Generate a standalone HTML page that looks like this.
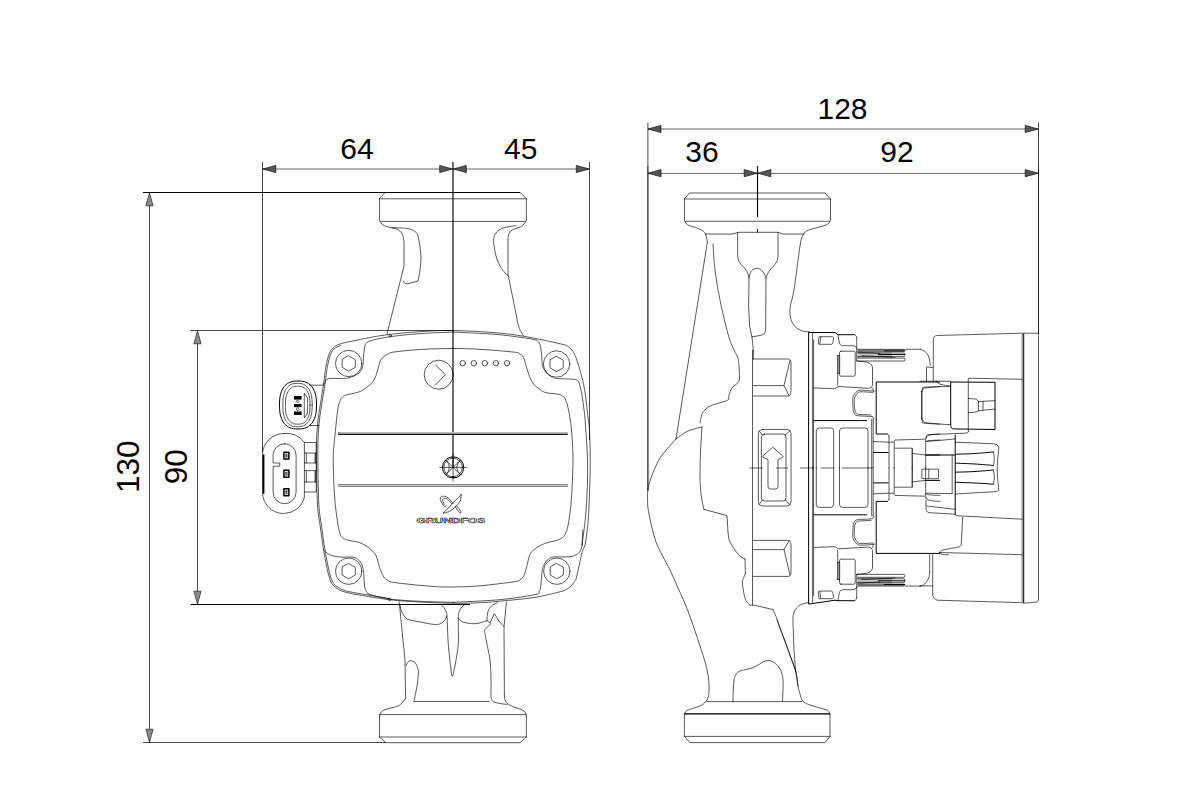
<!DOCTYPE html>
<html><head><meta charset="utf-8"><title>Pump dimensions</title>
<style>
html,body{margin:0;padding:0;background:#fff;}
body{width:1200px;height:800px;overflow:hidden;font-family:"Liberation Sans",sans-serif;}
svg{display:block;}
.l{fill:none;stroke:#000;stroke-width:.65;stroke-linecap:round;stroke-linejoin:round;}
.h{fill:none;stroke:#000;stroke-width:1.4;stroke-linecap:butt;}
.b{fill:none;stroke:#000;stroke-width:1;}
.d{fill:none;stroke:#000;stroke-width:.6;}
.e{fill:none;stroke:#000;stroke-width:.72;}
.k{fill:none;stroke:#000;stroke-width:1.15;}
.ar{fill:#555;stroke:#111;stroke-width:.7;stroke-linejoin:round;}
.av{fill:#8a8a8a;stroke:#222;stroke-width:.7;stroke-linejoin:round;}
.f{fill:#000;stroke:none;}
.g{fill:#999;stroke:#000;stroke-width:.6;}
.t{font-family:"Liberation Sans",sans-serif;font-size:30px;fill:#000;text-anchor:middle;}
.logo{font-family:"Liberation Sans",sans-serif;font-weight:bold;font-size:6.3px;fill:#fff;stroke:#111;stroke-width:.42;}
</style></head><body>
<svg width="1200" height="800" viewBox="0 0 1200 800">
<g id="dims">
<line class="b" x1="143" y1="192.5" x2="520" y2="192.5"/>
<line class="e" x1="143" y1="742.5" x2="386" y2="742.5"/>
<line class="e" x1="190.5" y1="330.5" x2="453" y2="330.5"/>
<line class="b" x1="190.5" y1="604.5" x2="470" y2="604.5"/>
<line class="e" x1="149.5" y1="192.5" x2="149.5" y2="742.5"/>
<line class="e" x1="197.5" y1="330.5" x2="197.5" y2="604.5"/>
<path class="av" d="M149.5 192.8L145.9 205.8L153.1 205.8Z"/>
<path class="av" d="M149.5 742.2L145.9 729.2L153.1 729.2Z"/>
<path class="av" d="M197.5 330.8L193.9 343.8L201.1 343.8Z"/>
<path class="av" d="M197.5 604.2L193.9 591.2L201.1 591.2Z"/>
<line class="e" x1="262.5" y1="162" x2="262.5" y2="452"/>
<line class="e" x1="589.5" y1="162" x2="589.5" y2="440"/>
<line class="d" x1="262.5" y1="169" x2="589.5" y2="169"/>
<path class="ar" d="M262.8 169L275.8 165.4L275.8 172.6Z"/>
<path class="ar" d="M452.7 169L439.7 165.4L439.7 172.6Z"/>
<path class="ar" d="M453.3 169L466.3 165.4L466.3 172.6Z"/>
<path class="ar" d="M589.3 169L576.3 165.4L576.3 172.6Z"/>
<line class="k" x1="453" y1="162" x2="453" y2="467"/>
<line class="e" x1="647.9" y1="122.5" x2="647.9" y2="491"/>
<line class="d" x1="647.9" y1="166" x2="647.9" y2="491"/>
<line class="e" x1="1038.5" y1="122.5" x2="1038.5" y2="334"/>
<line class="d" x1="1038.5" y1="166" x2="1038.5" y2="334"/>
<line class="d" x1="647.7" y1="129" x2="1038.5" y2="129"/>
<line class="d" x1="647.7" y1="173.4" x2="1038.5" y2="173.4"/>
<path class="ar" d="M648 129L661 125.4L661 132.6Z"/>
<path class="ar" d="M1038.2 129L1025.2 125.4L1025.2 132.6Z"/>
<path class="ar" d="M648 173.2L661 169.6L661 176.8Z"/>
<path class="ar" d="M757.2 173.2L744.2 169.6L744.2 176.8Z"/>
<path class="ar" d="M757.8 173.2L770.8 169.6L770.8 176.8Z"/>
<path class="ar" d="M1038.2 173.2L1025.2 169.6L1025.2 176.8Z"/>
<line class="k" x1="757.5" y1="166" x2="757.5" y2="217"/>
<line class="k" x1="757.5" y1="229" x2="757.5" y2="232.5"/>
<text class="t" x="357" y="158.6">64</text>
<text class="t" x="520.7" y="158.6">45</text>
<text class="t" x="842.5" y="118.6">128</text>
<text class="t" x="702" y="162.4">36</text>
<text class="t" x="897" y="162.4">92</text>
<text class="t" style="font-size:31.5px" transform="translate(139.2 466.7) rotate(-90)">130</text>
<text class="t" style="font-size:31.5px" transform="translate(186.8 466.7) rotate(-90)">90</text>
</g>
<g id="leftview">
<path class="l" d="M385.6 192.5L520 192.5L526.4 198.6L526.4 220.4L525.4 221.4L380.6 221.4L379.6 220.4L379.6 198.6Z"/>
<line class="l" x1="379.6" y1="198.8" x2="526.4" y2="198.8"/>
<path class="l" d="M379.8 221C380.3 221.7 381.3 223.9 383 225C384.7 226.1 387.5 226.7 390 227.4C392.5 228.2 395.9 228.2 398 229.5C400.1 230.8 401.5 232.9 402.5 235C403.5 237.1 403.8 240.8 404 242L404 266L387 334"/>
<path class="l" d="M392 227.6C394.7 227.8 404.2 227.9 408 228.6C411.8 229.2 413.3 230.3 415 231.5C416.7 232.7 417.2 233.4 418 236C418.8 238.6 419.5 243.3 420 247C420.5 250.7 421 254.2 421 258C421 261.8 420.5 266.2 420 270C419.5 273.8 418.3 279.2 418 281L407 284C406.6 283.8 405.1 283.5 404.5 283C403.9 282.5 403.5 281.3 403.3 281"/>
<path class="l" d="M526.2 221C525.7 221.7 524 224 523 225C522 226 521.8 226.2 520 227C518.2 227.8 513.8 228.8 512 230C510.2 231.2 509.7 232.7 509 234C508.3 235.3 508.2 237.3 508 238L508 274L518 324C518.3 325 519.1 328.1 520 330C520.9 331.9 522.9 334.8 523.5 335.7"/>
<path class="l" d="M515.6 225.6C513.5 226 506.3 226.8 503 228C499.7 229.2 497.6 231 496 233C494.4 235 493.9 237.5 493.6 240C493.4 242.5 494.1 245.3 494.5 248C494.9 250.7 495.1 253 496 256C496.9 259 498.3 263 500 266C501.7 269 504.7 272.5 506 274C507.3 275.5 507.7 274.8 508 275"/>
<path class="l" d="M453 330.5C440.5 330.3 431.3 330.9 420 331.7C408.7 332.4 395.8 333.5 385 335C374.2 336.5 362.5 339 355 340.5C347.5 342 343.7 342.8 340 344C336.3 345.2 334.8 346.5 333 348C331.2 349.5 330.7 350 329.5 353C328.3 356 327 360.8 326 366C325 371.2 324.9 374.7 323.5 384.5C322.1 394.3 318.7 412.4 317.5 425C316.3 437.6 316.5 446.7 316.5 460C316.5 473.3 316.9 494.2 317.5 505C318.1 515.8 319 517.6 320 525C321 532.4 322.4 542.7 323.5 549.5C324.6 556.3 325.5 561.2 326.5 566C327.5 570.8 328.5 574.9 329.5 578C330.5 581.1 331.2 582.8 332.5 584.5C333.8 586.2 334.2 587.1 337 588.5C339.8 589.9 340.2 591.1 349 593C357.8 594.9 377.7 598.2 389.5 599.7C401.3 601.2 409.4 601.4 420 602C430.6 602.6 443 603.2 453 603.3C463 603.4 472.2 603.1 480 602.7C487.8 602.4 490.5 602.1 499.5 601.2C508.5 600.3 523.8 599.1 534 597.5C544.2 595.9 555.5 592.9 561 591.5C566.5 590.1 565.2 590 567 589C568.8 588 570.2 586.8 571.5 585.5C572.8 584.2 573.6 583 574.5 581.5C575.4 580 575.5 581.3 576.7 576.5C578 571.7 580.6 557.8 582 552.5C583.4 547.2 584.1 548.8 585 545C585.9 541.2 586.6 535.4 587.2 530C587.8 524.6 588.2 522.9 588.7 512.5C589.2 502.1 590.1 481.2 590.2 467.5C590.3 453.8 589.9 438.3 589.5 430C589.1 421.7 588.9 424.6 588 417.5C587.1 410.4 586 396.8 584.2 387.5C582.5 378.2 579.4 368 577.5 362C575.6 356 574.6 354.1 573 351.5C571.4 348.9 570 347.8 568 346.5C566 345.2 568.2 345.7 561 344C553.8 342.3 536 338.4 525 336.5C514 334.6 507 333.7 495 332.7C483 331.7 465.5 330.7 453 330.5Z"/>
<path class="l" d="M341 345.3C339.8 345.9 335.7 347.6 334 349C332.3 350.4 331.9 351.1 330.8 354C329.7 356.9 328.4 361.4 327.4 366.5C326.4 371.6 326.3 374.9 324.9 384.7C323.5 394.4 320.1 412.4 318.9 425C317.7 437.6 317.9 446.7 317.9 460C317.9 473.3 318.3 494.2 318.9 505C319.5 515.8 320.4 517.6 321.4 525C322.4 532.4 323.8 542.5 324.9 549.3C326 556.1 326.9 560.9 327.9 565.6C328.9 570.3 329.8 574.3 330.8 577.3C331.8 580.3 332.5 581.9 333.7 583.5C334.9 585.1 335.3 585.8 337.9 587.2C340.5 588.6 340.9 589.8 349.5 591.7C358.1 593.6 382.8 597.3 389.5 598.4"/>
<path class="l" d="M579 382.2C579.2 383.2 580 385.9 580.5 388C581 390.1 581.4 391 582 395C582.6 399 583.7 407 584.3 412C584.9 417 585.1 419.5 585.5 425C585.9 430.5 586.5 439.2 586.8 445C587.1 450.8 587.4 454.2 587.5 460C587.6 465.8 587.6 474.2 587.5 480C587.4 485.8 587.3 489.2 587 495C586.7 500.8 586.2 508.8 585.7 515C585.2 521.2 584.3 527.5 583.7 532.5C583.1 537.5 582.3 542.9 582 545"/>
<path class="l" d="M453 332C446.7 332.3 426.3 333.1 415 334C403.7 334.9 392.5 336.3 385 337.5C377.5 338.7 373.2 340 370 341C366.8 342 366.9 342.5 366 343.5C365.1 344.5 365.1 344.9 364.7 347C364.3 349.1 363.8 353 363.5 356C363.2 359 363.5 362.4 363 365C362.5 367.6 361.8 369.8 360.5 371.5C359.2 373.2 357.1 374.4 355 375.5C352.9 376.6 350.2 377.5 348 378C345.8 378.5 344.6 378.4 341.5 378.5C338.4 378.6 332.1 378.2 329.5 378.5C326.9 378.8 326.9 379.5 326 380.5C325.1 381.5 324.3 383.8 324 384.5"/>
<path class="l" d="M453 332C460 332.4 483.8 333.4 495 334.3C506.2 335.2 513.5 336.4 520 337.3C526.5 338.2 531 338.8 534 339.5C537 340.2 537 340.6 538 341.5C539 342.4 539.4 342.6 540 344.7C540.6 346.8 541.1 350.9 541.5 354C541.9 357.1 541.8 360.9 542.2 363.5C542.6 366.1 543.1 367.8 544 369.5C544.9 371.2 546.2 372.8 547.5 374C548.8 375.2 550.5 376.2 552 377C553.5 377.8 553 378.1 556.5 378.5C560 378.9 569.6 378.9 573 379.2C576.4 379.5 576 379.7 577 380.2C578 380.7 578.7 381.9 579 382.2"/>
<path class="l" d="M323.5 549.5C324.5 550.4 326.8 553.5 329.5 554.7C332.2 556 336.2 556.6 340 557C343.8 557.4 349.1 556.7 352 557C354.9 557.3 356 558 357.5 559C359 560 360.1 561.5 361 563C361.9 564.5 362.6 566.2 363 568C363.4 569.8 363.4 570.3 363.7 573.5C364 576.7 364.2 584 364.7 587C365.2 590 365.6 590.2 366.5 591.5C367.4 592.8 366.2 593.2 370 594.5C373.8 595.8 381.2 597.9 389.5 599C397.8 600.1 409.4 600.8 420 601.3C430.6 601.8 447.5 602.1 453 602.3"/>
<path class="l" d="M582.7 530C582.6 532.5 582.4 541.6 582 545C581.6 548.4 581.2 549 580.5 550.5C579.8 552 579.2 553 577.5 554C575.8 555 574 556.2 570 556.7C566 557.2 557 556.7 553.5 557C550 557.3 550.2 558 549 558.7C547.8 559.5 546.9 560.3 546 561.5C545.1 562.7 544.1 564.5 543.5 566C542.9 567.5 542.7 567 542.2 570.5C541.7 574 541.2 583.5 540.7 587C540.2 590.5 539.9 590.2 539 591.5C538.1 592.8 542.1 593.1 535.5 594.5C528.9 595.9 513.2 598.4 499.5 599.7C485.8 601 460.8 601.9 453 602.3"/>
<path class="l" d="M453 348.5C443 348.5 429.8 348.9 420 349.5C410.2 350.1 399.3 351.2 394 352C388.7 352.8 389.8 353.2 388 354C386.2 354.8 384.8 355.6 383.5 356.7C382.2 357.8 381.2 359.1 380.5 360.5C379.8 361.9 379.8 362.5 379 365C378.2 367.5 377 372.8 376 375.5C375 378.2 374.2 379.8 373 381.5C371.8 383.2 370.2 384.6 368.5 386C366.8 387.4 365 388.9 363 390C361 391.1 359.3 391.9 356.5 392.7C353.7 393.5 348.4 394.2 346 395C343.6 395.8 343 396.5 342 397.5C341 398.5 340.7 398.9 340 401C339.3 403.1 338.6 403.8 337.7 410C336.8 416.2 335.4 430.2 334.7 438.5C333.9 446.8 333.2 450.2 333.2 460C333.2 469.8 333.9 487 334.7 497.5C335.4 508 336.8 517 337.7 523C338.6 529 339.2 531.1 340 533.5C340.8 535.9 340.9 536.4 342.2 537.5C343.4 538.6 345.6 539.4 347.5 540C349.4 540.6 351.5 540.8 353.5 541.2C355.5 541.6 357.2 541.6 359.5 542.5C361.8 543.4 364.9 545.2 367 546.5C369.1 547.8 370.5 549 372 550.5C373.5 552 374.7 552.7 376 555.5C377.3 558.3 378.4 564 379.7 567.5C380.9 571 382.1 574.3 383.5 576.5C384.9 578.7 386.2 579.5 388 580.5C389.8 581.5 387 581.5 394 582.5C401 583.5 420.2 585.5 430 586.2C439.8 587 444.7 587.1 453 587C461.3 586.9 469.8 586.7 480 585.8C490.2 584.9 507.8 582.8 514.5 581.7C521.2 580.7 518.5 580.4 520 579.5C521.5 578.6 522.4 578.5 523.5 576.5C524.6 574.5 525.5 571 526.5 567.5C527.5 564 528.4 558.3 529.5 555.5C530.6 552.7 531.5 552 533 550.5C534.5 549 536.3 547.8 538.5 546.5C540.7 545.2 543.5 543.9 546 543C548.5 542.1 551.5 541.7 553.5 541.2C555.5 540.7 556.5 540.6 558 540C559.5 539.4 561.2 538.6 562.5 537.5C563.8 536.4 564.5 535.9 565.5 533.5C566.5 531.1 567.5 529 568.5 523C569.5 517 570.8 508 571.5 497.5C572.2 487 573 471.2 573 460C573 448.8 572.2 438.3 571.5 430C570.8 421.7 569.5 415.1 568.5 410C567.5 404.9 566.5 401.8 565.5 399.5C564.5 397.2 563.8 396.9 562.5 396C561.2 395.1 560.8 394.8 558 394.2C555.2 393.6 549 393.5 546 392.7C543 391.9 542 390.9 540 389.5C538 388.1 535.7 386.5 534 384.5C532.3 382.5 531.1 380 530 377.5C528.9 375 528.3 372.8 527.2 369.5C526.1 366.2 524.8 360.1 523.5 357.5C522.2 354.9 521 354.9 519.5 354C518 353.1 521.1 353 514.5 352.2C507.9 351.4 490.2 349.9 480 349.3C469.8 348.7 463 348.5 453 348.5Z"/>
<circle class="l" cx="390.2" cy="335.8" r="1.2"/>
<circle class="l" cx="389.6" cy="599.6" r="1.2"/>
<circle class="l" cx="348.7" cy="363.5" r="13.2"/>
<path class="l" d="M348.7 355.9L355.3 359.7L355.3 367.3L348.7 371.1L342.1 367.3L342.1 359.7Z"/>
<circle class="l" cx="556.6" cy="364" r="13.2"/>
<path class="l" d="M556.6 356.4L563.2 360.2L563.2 367.8L556.6 371.6L550 367.8L550 360.2Z"/>
<circle class="l" cx="348.7" cy="571.2" r="13.2"/>
<path class="l" d="M348.7 563.6L355.3 567.4L355.3 575L348.7 578.8L342.1 575L342.1 567.4Z"/>
<circle class="l" cx="556.8" cy="571.2" r="13.2"/>
<path class="l" d="M556.8 563.6L563.4 567.4L563.4 575L556.8 578.8L550.2 575L550.2 567.4Z"/>
<circle class="l" cx="438.7" cy="374.7" r="14.5"/>
<path class="l" d="M435.2 364.5L445.4 374.7L435.2 385.2"/>
<circle class="l" cx="462.7" cy="363.2" r="2.7"/>
<circle class="l" cx="473.8" cy="363.2" r="2.7"/>
<circle class="l" cx="484.8" cy="363.2" r="2.7"/>
<circle class="l" cx="495.9" cy="363.2" r="2.7"/>
<circle class="l" cx="507" cy="363.2" r="2.7"/>
<rect x="338.2" y="432" width="229.6" height="2" fill="#bdbdbd"/>
<rect x="338.2" y="433.8" width="229.6" height="1.1" fill="#000"/>
<rect x="338.2" y="432" width="1" height="2" fill="#555"/>
<rect x="338.2" y="484" width="229.6" height="3" fill="#858585"/>
<rect x="339.2" y="485" width="228" height="1" fill="#c8c8c8"/>
<circle class="b" cx="453.1" cy="467.4" r="10.6"/>
<circle class="l" cx="453.1" cy="467.4" r="9.3"/>
<line class="l" x1="439.6" y1="467.4" x2="466.8" y2="467.4"/>
<line class="l" x1="453.1" y1="454" x2="453.1" y2="481"/>
<line class="l" x1="446" y1="460.3" x2="460.2" y2="474.5"/>
<line class="l" x1="460.2" y1="460.3" x2="446" y2="474.5"/>
<path class="l" d="M446 460.3Q453.1 467.4 446 474.5M460.2 460.3Q453.1 467.4 460.2 474.5"/>
<rect x="451.6" y="476.6" width="3" height="1.4" fill="#000"/>
<path class="l" d="M461.2 494.3L460.6 500.1"/>
<path class="l" d="M461.2 494.3C460.6 495 458.8 497.1 457.5 498.5C456.2 499.9 454.8 501 453.3 502.6C451.8 504.2 450.2 506.2 448.5 508C446.8 509.8 444.1 512.2 443.2 513.1"/>
<path class="l" d="M460.6 500.1C460.2 500.7 459.3 502.5 458.5 503.5C457.7 504.5 457.5 505 456 506.3C454.5 507.6 451.5 510.3 449.4 511.4C447.3 512.5 444.2 512.8 443.2 513.1"/>
<path class="l" d="M455 506.3C455.4 506.9 456.6 508.8 457.3 509.8C458.1 510.8 458.9 511.9 459.5 512.5C460.1 513 460.6 513.3 460.8 513.1C461 512.9 460.9 512.2 460.6 511.4C460.3 510.6 459.5 509.4 458.8 508.5C458.1 507.6 457.1 506.2 456.7 505.7"/>
<path class="l" d="M453.3 503.5C452.4 502.6 449.8 499.1 448.2 497.9C446.6 496.7 445 496.2 443.7 496.2C442.4 496.1 440.7 496.6 440.3 497.6C439.9 498.6 440.7 500.8 441.5 502.4C442.3 503.9 444.1 506.4 444.9 506.9C445.7 507.4 446 505.7 446.2 505.5"/>
<path class="l" d="M451.6 503.7C450.9 502.9 448.4 499.9 447.1 499C445.8 498.1 444.4 498.2 443.7 498.4C442.9 498.6 442.5 499.1 442.6 500.1C442.7 501.1 444 503.9 444.3 504.6"/>
<text class="logo" x="416.6" y="522.8" textLength="68.6" lengthAdjust="spacingAndGlyphs">GRUNDFOS</text>
<path class="b" d="M316.5 405C316.5 407 316.4 409.2 316.3 410.9C316.1 412.6 315.9 413.9 315.6 415.2C315.3 416.5 314.9 417.7 314.5 418.8C314 419.9 313.5 420.9 312.9 421.9C312.4 422.8 311.7 423.6 311 424.4C310.3 425.1 309.5 425.8 308.6 426.4C307.8 427 306.9 427.4 305.8 427.8C304.8 428.2 303.9 428.5 302.6 428.7C301.3 428.9 299.5 429 298 429C296.5 429 294.7 428.9 293.4 428.7C292.1 428.5 291.2 428.2 290.2 427.8C289.1 427.4 288.2 427 287.4 426.4C286.5 425.8 285.7 425.1 285 424.4C284.3 423.6 283.6 422.8 283.1 421.9C282.5 420.9 282 419.9 281.5 418.8C281.1 417.7 280.7 416.5 280.4 415.2C280.1 413.9 279.9 412.6 279.7 410.9C279.6 409.2 279.5 407 279.5 405C279.5 403 279.6 400.8 279.7 399.1C279.9 397.4 280.1 396.1 280.4 394.8C280.7 393.5 281.1 392.3 281.5 391.2C282 390.1 282.5 389.1 283.1 388.1C283.6 387.2 284.3 386.4 285 385.6C285.7 384.9 286.5 384.2 287.4 383.6C288.2 383 289.1 382.6 290.2 382.2C291.2 381.8 292.1 381.5 293.4 381.3C294.7 381.1 296.5 381 298 381C299.5 381 301.3 381.1 302.6 381.3C303.9 381.5 304.8 381.8 305.8 382.2C306.9 382.6 307.8 383 308.6 383.6C309.5 384.2 310.3 384.9 311 385.6C311.7 386.4 312.4 387.2 312.9 388.1C313.5 389.1 314 390.1 314.5 391.2C314.9 392.3 315.3 393.5 315.6 394.8C315.9 396.1 316.1 397.4 316.3 399.1C316.4 400.8 316.5 403 316.5 405Z"/>
<path class="l" d="M312.2 405C312.2 406.8 312.1 408.8 312 410.3C311.9 411.9 311.7 413 311.5 414.2C311.2 415.4 311 416.5 310.6 417.5C310.3 418.5 309.8 419.4 309.4 420.2C308.9 421.1 308.4 421.8 307.8 422.5C307.2 423.2 306.6 423.8 305.9 424.3C305.3 424.9 304.5 425.3 303.7 425.6C302.9 426 302.2 426.3 301.1 426.4C300.1 426.6 298.7 426.7 297.5 426.7C296.3 426.7 294.9 426.6 293.9 426.4C292.8 426.3 292.1 426 291.3 425.6C290.5 425.3 289.7 424.9 289.1 424.3C288.4 423.8 287.8 423.2 287.2 422.5C286.6 421.8 286.1 421.1 285.6 420.2C285.2 419.4 284.7 418.5 284.4 417.5C284 416.5 283.8 415.4 283.5 414.2C283.3 413 283.1 411.9 283 410.3C282.9 408.8 282.8 406.8 282.8 405C282.8 403.2 282.9 401.2 283 399.7C283.1 398.1 283.3 397 283.5 395.8C283.8 394.6 284 393.5 284.4 392.5C284.7 391.5 285.2 390.6 285.6 389.8C286.1 388.9 286.6 388.2 287.2 387.5C287.8 386.8 288.4 386.2 289.1 385.7C289.7 385.1 290.5 384.7 291.3 384.4C292.1 384 292.8 383.7 293.9 383.6C294.9 383.4 296.3 383.3 297.5 383.3C298.7 383.3 300.1 383.4 301.1 383.6C302.2 383.7 302.9 384 303.7 384.4C304.5 384.7 305.3 385.1 305.9 385.7C306.6 386.2 307.2 386.8 307.8 387.5C308.4 388.2 308.9 388.9 309.4 389.8C309.8 390.6 310.3 391.5 310.6 392.5C311 393.5 311.2 394.6 311.5 395.8C311.7 397 311.9 398.1 312 399.7C312.1 401.2 312.2 403.2 312.2 405Z"/>
<path class="l" d="M310 405.2C310 406.8 309.9 408.5 309.9 409.9C309.8 411.2 309.6 412.2 309.4 413.3C309.2 414.3 309 415.2 308.7 416.1C308.4 417 308 417.8 307.6 418.5C307.3 419.3 306.8 420 306.3 420.6C305.9 421.2 305.3 421.7 304.8 422.1C304.2 422.6 303.6 423 302.9 423.3C302.2 423.6 301.6 423.8 300.7 424C299.9 424.1 298.7 424.2 297.7 424.2C296.7 424.2 295.5 424.1 294.7 424C293.8 423.8 293.2 423.6 292.5 423.3C291.8 423 291.2 422.6 290.6 422.1C290.1 421.7 289.5 421.2 289.1 420.6C288.6 420 288.1 419.3 287.8 418.5C287.4 417.8 287 417 286.7 416.1C286.4 415.2 286.2 414.3 286 413.3C285.8 412.2 285.6 411.2 285.5 409.9C285.5 408.5 285.4 406.8 285.4 405.2C285.4 403.6 285.5 401.9 285.5 400.5C285.6 399.2 285.8 398.2 286 397.1C286.2 396.1 286.4 395.2 286.7 394.3C287 393.4 287.4 392.6 287.8 391.9C288.1 391.1 288.6 390.4 289.1 389.8C289.5 389.2 290.1 388.7 290.6 388.3C291.2 387.8 291.8 387.4 292.5 387.1C293.2 386.8 293.8 386.6 294.7 386.4C295.5 386.3 296.7 386.2 297.7 386.2C298.7 386.2 299.9 386.3 300.7 386.4C301.6 386.6 302.2 386.8 302.9 387.1C303.6 387.4 304.2 387.8 304.8 388.3C305.3 388.7 305.9 389.2 306.3 389.8C306.8 390.4 307.3 391.1 307.6 391.9C308 392.6 308.4 393.4 308.7 394.3C309 395.2 309.2 396.1 309.4 397.1C309.6 398.2 309.8 399.2 309.9 400.5C309.9 401.9 310 403.6 310 405.2Z"/>
<rect class="f" x="294" y="396" width="7.6" height="3.6"/>
<rect class="f" x="294" y="404" width="7.6" height="3.2"/>
<rect class="f" x="294" y="411.5" width="7.6" height="3.5"/>
<path class="l" d="M304.5 393.5L307.6 398L307.6 413L304.5 417.5Z"/>
<line class="l" x1="310" y1="385.2" x2="323.5" y2="385.2"/>
<line class="l" x1="310" y1="425.5" x2="319" y2="425.5"/>
<path class="l" d="M297.8 400.3l1.4 1.4-1.4 1.4-1.4-1.4ZM297.8 408l1.4 1.4-1.4 1.4-1.4-1.4Z"/>
<path class="l" d="M283.7 433.5A21.2 21.2 0 0 0 262.5 454.7L262.5 492.3A21.2 21.2 0 0 0 283.7 513.5A21.2 21.2 0 0 0 304.4 497L304.4 442.5A21.2 21.2 0 0 0 283.7 433.5Z"/>
<rect x="262.6" y="454.4" width="1.8" height="39.4" fill="#000"/>
<path class="l" d="M284.6 443.7A11.5 11.5 0 0 0 273.1 455.2L273.1 463L279.7 463L279.7 466.2L273.1 466.2L273.1 492.2A11.5 11.5 0 0 0 296.1 492.2L296.1 455.2A11.5 11.5 0 0 0 284.6 443.7Z"/>
<rect class="l" x="283.9" y="452.2" width="5" height="6.8" style="stroke-width:1.5"/>
<rect x="285.3" y="453.7" width="2.2" height="3.8" fill="#555"/>
<rect class="l" x="283.9" y="470.3" width="5" height="7" style="stroke-width:1.5"/>
<rect x="285.3" y="471.8" width="2.2" height="4" fill="#555"/>
<rect class="l" x="283.9" y="488.7" width="5" height="7.1" style="stroke-width:1.5"/>
<rect x="285.3" y="490.2" width="2.2" height="4.1" fill="#555"/>
<path class="l" d="M304.4 442.5L316.2 442.5L316.2 492L304.4 492"/>
<line class="l" x1="304.4" y1="453" x2="316.2" y2="453"/>
<line class="l" x1="304.4" y1="463" x2="316.2" y2="463"/>
<line class="l" x1="304.4" y1="470.6" x2="316.2" y2="470.6"/>
<line class="l" x1="304.4" y1="482" x2="316.2" y2="482"/>
<line class="l" x1="306.3" y1="453" x2="306.3" y2="463"/>
<line class="b" x1="315.2" y1="453" x2="315.2" y2="463"/>
<line class="l" x1="306.3" y1="470.6" x2="306.3" y2="482"/>
<line class="b" x1="315.2" y1="470.6" x2="315.2" y2="482"/>
<path class="l" d="M399.2 602L405 660L405.6 698"/>
<path class="l" d="M405.6 698C405 698.8 403.3 701.7 402 703C400.7 704.3 400 705.1 398 706C396 706.9 392.3 707.6 390 708.3C387.7 709 385.6 709.2 384 710C382.4 710.8 381.2 711.9 380.5 713C379.8 714.1 379.7 715.9 379.5 716.5"/>
<path class="l" d="M400 604.5C400.2 605.4 400.5 608.4 401 610C401.5 611.6 401.9 612.5 403 614C404.1 615.5 404.7 617.9 407.5 619.2C410.3 620.5 415.5 621.1 420 622C424.5 622.9 431.2 624.2 434.5 624.5C437.8 624.8 438.1 624.4 439.5 624C440.9 623.6 441.7 623 442.7 622.2C443.7 621.5 444.9 620.5 445.5 619.5C446.1 618.5 446.4 616.6 446.6 616"/>
<path class="l" d="M440.5 604C441.2 604.8 443.5 607 444.5 608.5C445.5 610 446.1 611.8 446.5 613C446.9 614.2 446.8 613.5 447 616C447.2 618.5 447.3 624 447.5 628C447.7 632 447.7 635.2 448 640C448.3 644.8 448.8 651 449.5 657C450.2 663 451.2 674.2 452 676C452.8 677.8 453.8 670.7 454.5 668C455.2 665.3 455.5 663 456 660C456.5 657 457.3 653.3 457.7 650C458.1 646.7 458.3 645.3 458.4 640C458.5 634.7 458.2 622.8 458.4 618C458.6 613.2 458.9 612.8 459.5 611C460.1 609.2 461.1 608.2 462 607C462.9 605.8 464.5 604.5 465 604"/>
<path class="l" d="M458.4 618C458.8 618.5 460.1 620.1 461 620.8C461.9 621.5 461.8 621.9 464 622.4C466.2 622.9 471.2 623.8 474 623.8C476.8 623.8 478.8 623.2 481 622.7C483.2 622.2 486 621 487 620.7"/>
<path class="l" d="M487 620.7C487.1 619.8 487.1 616.6 487.3 615C487.5 613.4 487.8 612.2 488.2 611C488.6 609.8 489.2 608.5 490 607.5C490.8 606.5 491.4 605.8 492.7 605C493.9 604.2 496.7 603.1 497.5 602.7"/>
<path class="l" d="M487 620.7C487.6 621.2 490.2 622.5 490.5 623.4C490.8 624.3 489.4 625 488.5 626C487.6 627 485.6 628 485 629.5C484.4 631 484.4 629.9 485.2 635C486 640.1 489 652.5 490 660C491 667.5 490.8 674 491 680C491.2 686 490.8 692.7 491 696C491.2 699.3 491.5 699 492 700C492.5 701 492.7 701.4 494 702C495.3 702.6 497.8 703.1 500 703.5C502.2 703.9 505.8 704.2 507 704.4"/>
<path class="l" d="M490.3 622.5L494.3 613.6L499 621"/>
<path class="l" d="M499 621C499.4 621.5 500.7 623.1 501.5 624C502.3 624.9 503.4 626.1 503.8 626.5"/>
<path class="l" d="M506.5 602L504 626.5L504.4 696"/>
<path class="l" d="M504.4 696C504.6 696.8 504.9 699.7 505.5 701C506.1 702.3 506.6 703 508 704C509.4 705 512 706.2 514 707C516 707.8 518.3 708.3 520 709C521.7 709.7 523.1 710.2 524 711C524.9 711.8 525.2 712.5 525.6 713.5C526 714.5 526.3 716.4 526.4 717"/>
<path class="l" d="M406 666C406.2 665.4 406.8 663.3 407.5 662.5C408.2 661.7 409 661.2 410 661C411 660.8 412.5 660.8 413.5 661.3C414.5 661.8 415.2 662.7 416 664C416.8 665.3 417.6 667.3 418 669C418.4 670.7 418.6 671.2 418.4 674C418.2 676.8 417.7 681.5 417 686C416.3 690.5 414.5 698.5 414 701"/>
<line class="l" x1="414" y1="701.5" x2="489" y2="701.5"/>
<path class="l" d="M379.5 716.5L379.5 737L386 742.7L520 742.7L526.4 737L526.4 717"/>
<line class="l" x1="379.5" y1="714.6" x2="526.4" y2="714.6"/>
<line class="l" x1="379.5" y1="737" x2="526.4" y2="737"/>
</g>
<g id="rightview">
<path class="l" d="M690 193L825 193L830.5 199L830.5 220.5L829.6 221.3L685.3 221.3L684.5 220.5L684.5 199Z"/>
<line class="l" x1="684.5" y1="199" x2="830.5" y2="199"/>
<path class="l" d="M684.6 221.2C685.2 221.8 685.8 223.8 688 225C690.2 226.2 695.5 227.4 698 228.4C700.5 229.4 701.8 230.1 703 231C704.2 231.9 704.8 232.2 705.5 234C706.2 235.8 707.1 240.7 707.4 242"/>
<line class="l" x1="707.4" y1="242" x2="676" y2="439"/>
<path class="l" d="M706 234L733 234L738 232.3L778 232.3L783 234L804 234"/>
<path class="l" d="M830.2 221.2C829.5 221.8 829.4 223.6 826 225C822.6 226.4 813.4 228.4 810 229.6C806.6 230.8 806.7 231.1 805.5 232C804.3 232.9 803.9 232.7 803 235C802.1 237.3 801.5 236.8 800 246C798.5 255.2 795.6 280.2 794 290C792.4 299.8 791.2 301 790.5 305C789.8 309 789.9 311.6 790 314C790.1 316.4 790.5 317.8 791 319.5C791.5 321.2 792.2 322.7 793 324C793.8 325.3 794.8 326.5 796 327.5C797.2 328.5 798.5 329.3 800 330C801.5 330.7 803.3 331.2 805 331.5C806.7 331.8 809.2 331.9 810 332"/>
<path class="l" d="M713 244C713.3 248.3 713.8 260.7 715 270C716.2 279.3 717.8 289.3 720 300C722.2 310.7 725.7 325.7 728 334C730.3 342.3 732.3 346 734 350C735.7 354 737.1 354.7 738 358C738.9 361.3 739 366.3 739.2 370C739.4 373.7 739.9 377.6 739.4 380C738.9 382.4 737.2 383.2 736 384.5C734.8 385.8 733.2 386.2 732 388C730.8 389.8 729.7 393 729 395C728.3 397 729.7 398.7 728 400C726.3 401.3 722 402 719 403C716 404 712.3 404.8 710 406C707.7 407.2 706.3 408.7 705 410C703.7 411.3 702.8 411.8 702 414C701.2 416.2 700.3 421.5 700 423"/>
<path class="l" d="M737.6 233L737.6 256C737.8 256.7 738.1 258.8 738.5 260C738.9 261.2 738.8 261.3 740 263C741.2 264.7 744.7 268.2 746 270C747.3 271.8 747.5 272.7 748 274C748.5 275.3 748.8 277.3 749 278L748.6 306L749.6 326L752 337L753.4 350L753.4 359"/>
<path class="l" d="M778 233L778 256C777.9 256.7 777.6 258.8 777.3 260C777 261.2 777.2 261.3 776 263C774.8 264.7 771.4 268.2 770 270C768.6 271.8 768.2 272.7 767.5 274C766.8 275.3 766.2 277.3 766 278L765.6 330C765.4 330.6 765.1 332.7 764.5 333.5C763.9 334.3 762.4 334.8 762 335L752 337"/>
<path class="l" d="M749 278C749.3 276.9 750 273.1 751 271.5C752 269.9 753.5 269 755 268.6C756.5 268.2 758.5 268.2 760 269C761.5 269.8 763 272 764 273.5C765 275 765.7 277.2 766 278"/>
<path class="l" d="M676 439C674.5 440.7 669.7 445.8 667 449C664.3 452.2 662 454.8 660 458C658 461.2 656.5 464.7 655 468C653.5 471.3 652.1 475 651 478C649.9 481 649.1 483.3 648.5 486C647.9 488.7 647.7 490.8 647.6 494C647.5 497.2 647.5 501.7 647.7 505C647.9 508.3 648.3 510.2 649 514C649.7 517.8 650.8 523.3 652 528C653.2 532.7 654.3 537.5 656 542C657.7 546.5 659.7 550.3 662 555C664.3 559.7 667.3 564.5 670 570C672.7 575.5 675.3 582 678 588C680.7 594 683.5 599.8 686 606C688.5 612.2 690.7 618.3 693 625C695.3 631.7 698.1 640.2 700 646C701.9 651.8 703.3 656 704.5 660C705.7 664 706.3 666.7 707 670C707.7 673.3 708.4 676.7 708.7 680C709 683.3 709 687.3 709 690C709 692.7 708.8 694.3 708.5 696C708.2 697.7 707.2 699.3 707 700"/>
<path class="l" d="M676 439C677 438.2 680 435.8 682 434.5C684 433.2 685.8 432 688 431C690.2 430 692.7 429.4 695 428.7C697.3 428 700.8 427.3 702 427"/>
<path class="l" d="M702 427C701.8 430.8 700.9 442.2 700.6 450C700.3 457.8 700 468.2 700 474C700 479.8 700.1 481.7 700.3 485C700.5 488.3 700.7 491.2 701 494C701.3 496.8 701.8 499.4 702.3 502C702.8 504.6 703.7 508.2 704 509.4"/>
<path class="l" d="M704 509.4L727 515.6L728 532"/>
<path class="l" d="M728 532C728.1 532.8 728.3 535.3 728.6 537C728.9 538.7 729.1 540.1 730 542C730.9 543.9 732.7 546.5 734 548.5C735.3 550.5 736.8 552.6 738 554C739.2 555.4 739.8 556.2 741 557C742.2 557.8 744.3 558.7 745 559"/>
<path class="l" d="M745 559L745.4 574"/>
<path class="l" d="M745.4 574C745.1 574.7 744 576.7 743.5 578C743 579.3 742.4 580 742.4 582C742.4 584 742.9 587.3 743.3 590C743.7 592.7 744.4 596 745 598C745.6 600 746.2 600.8 747 602C747.8 603.2 749.5 604.5 750 605"/>
<path class="l" d="M750 605L756 605.6L773 609.6"/>
<path class="l" d="M773 609.6C773.7 611.2 775.8 615.9 777 619C778.2 622.1 778.5 623.8 780 628C781.5 632.2 784.2 639 786 644C787.8 649 789.3 653.3 791 658C792.7 662.7 794.8 667.3 796 672C797.2 676.7 797.7 683.7 798 686"/>
<line class="l" x1="752.5" y1="350" x2="752.5" y2="605"/>
<path class="l" d="M753 359L788.5 359C788.8 359.2 789.9 359.5 790.3 360C790.7 360.5 790.9 361.7 791 362L791 390C790.9 390.8 790.8 393.5 790.5 394.5C790.2 395.5 789.2 395.8 789 396L753 396"/>
<path class="l" d="M753 385.6L784 385.6L790 360.3"/>
<line class="l" x1="784" y1="385.6" x2="789" y2="395.5"/>
<path class="l" d="M753 576.4L788.5 576.4C788.8 576.2 789.9 575.9 790.3 575.4C790.7 574.9 790.9 573.7 791 573.4L791 545C790.9 544.5 790.8 542.8 790.5 542C790.2 541.2 789.2 540.7 789 540.4L753 540.4"/>
<path class="l" d="M753 549.6L784 549.6L790 575"/>
<line class="l" x1="784" y1="549.6" x2="789" y2="541"/>
<rect class="l" x="758.4" y="429.4" width="32.6" height="76.6" rx="4.5"/>
<rect class="l" x="761.4" y="434" width="24.6" height="67" rx="3.2"/>
<line class="l" x1="758.9" y1="430.5" x2="762.3" y2="435"/>
<line class="l" x1="790.4" y1="430.5" x2="785.2" y2="435"/>
<line class="l" x1="758.9" y1="505" x2="762.3" y2="500"/>
<line class="l" x1="790.4" y1="505" x2="785.2" y2="500"/>
<path class="l" d="M773 447.4L783 456.2Q783.6 457.2 782.4 457.4L778 459.6L778 486.5Q778 489 775.5 489L770.5 489Q768 489 768 486.5L768 459.6L763.2 457.4Q762 457.2 762.8 456.2Z"/>
<line class="d" x1="749.6" y1="468" x2="763" y2="468"/>
<line class="d" x1="776" y1="468" x2="788" y2="468"/>
<line class="d" x1="800" y1="468" x2="813" y2="468"/>
<line class="d" x1="820.7" y1="468" x2="833.5" y2="468"/>
<line class="d" x1="841.7" y1="468" x2="871" y2="468"/>
<path class="l" d="M808.6 602.5C807.8 602.7 805.4 603.1 804 603.5C802.6 603.9 801.2 604.2 800 605C798.8 605.8 797.5 606.8 796.5 608C795.5 609.2 794.6 610.5 794 612C793.4 613.5 793.2 615.3 793 617C792.8 618.7 792.9 619 793 622C793.1 625 793.3 630.3 793.5 635C793.7 639.7 793.6 644.2 794 650C794.4 655.8 794.9 664 795.6 670C796.3 676 797.3 682 798 686C798.7 690 799.3 691.7 800 694C800.7 696.3 801.1 698.5 802 700C802.9 701.5 804.2 702.2 805.5 703C806.8 703.8 807.6 704.2 810 705C812.4 705.8 817.2 707.2 820 708C822.8 708.8 825.5 709.3 827 710C828.5 710.7 828.5 711.3 829 712C829.5 712.7 829.8 713.7 830 714"/>
<path class="l" d="M777 620C777.5 621.3 778.5 624 780 628C781.5 632 783.3 636.7 786 644C788.7 651.3 794.3 667.3 796 672"/>
<path class="l" d="M707 700C706.5 700.6 705.2 702.5 704 703.5C702.8 704.5 701.7 705.2 700 706C698.3 706.8 696 707.3 694 708C692 708.7 689.4 709.3 688 710C686.6 710.7 686.1 711.3 685.5 712C684.9 712.7 684.6 713.7 684.4 714"/>
<line class="l" x1="707" y1="701.6" x2="802" y2="701.6"/>
<path class="l" d="M733 701.6C733 699.7 733.1 693.6 733.3 690C733.5 686.4 733.6 682.4 734 680C734.4 677.6 734.8 676.8 735.5 675.5C736.2 674.2 736.4 673 738 672C739.6 671 742.7 670.4 745 669.7C747.3 669 749.8 668.8 752 668C754.2 667.2 756 666.1 758 665C760 663.9 762.3 662.1 764 661.4C765.7 660.7 766.7 660.6 768 660.6C769.3 660.6 770.6 660.8 772 661.4C773.4 662 775.2 663.2 776.5 664.5C777.8 665.8 779.1 667.4 780 669C780.9 670.6 781.5 672.2 782 674C782.5 675.8 782.8 677.3 783 680C783.2 682.7 783.1 686.4 783 690C782.9 693.6 782.5 699.7 782.4 701.6"/>
<path class="l" d="M684.4 714L684.4 736.4L690 742.6L825 742.6L830 736.4L830 714Z"/>
<line class="l" x1="684.4" y1="736.4" x2="830" y2="736.4"/>
<line class="b" x1="684.4" y1="714" x2="830" y2="714"/>
<path class="b" d="M808.6 468L808.6 332.5L835 332.5L838 334.7L854.5 334.7"/>
<path class="l" d="M854.5 334.7C854.8 334.9 855.6 335.2 856 335.7C856.4 336.2 856.6 337.4 856.7 337.7"/>
<line class="l" x1="856.7" y1="337.7" x2="856.7" y2="361"/>
<line class="l" x1="812.6" y1="468" x2="812.6" y2="333"/>
<line class="l" x1="813.6" y1="468" x2="813.6" y2="340"/>
<path class="l" d="M819.7 336.7L832.5 336.7L833.6 338L832.8 343.2L831.6 344.3L819.2 344.3L818.3 343.2L818.9 338Z"/>
<path class="l" d="M820.8 337L819.8 343.8"/>
<path class="l" d="M838 334.7C838.1 335.4 838.4 337.6 838.6 339C838.9 340.4 839.2 342 839.5 343C839.8 344 840 344.4 840.5 344.8C841 345.2 842.2 345.6 842.5 345.7L853 345.7C853.4 345.8 854.9 346.1 855.5 346.5C856.1 346.9 856.5 347.9 856.7 348.2"/>
<rect class="l" x="839.5" y="351.2" width="15.7" height="25" rx="1.5"/>
<rect class="g" x="837.6" y="355.7" width="2.2" height="17.5"/>
<path class="l" d="M837.7 373L837.7 385"/>
<path class="l" d="M856.7 361L866 362C866.7 362.2 868.9 362.7 870 363.5C871.1 364.3 872.1 366.4 872.5 367L872.5 385C872.2 385.4 871.8 386.9 871 387.5C870.2 388.1 868.5 388.2 868 388.3L838 386.5L835 388.7L814 388"/>
<rect x="858" y="351.8" width="34" height="6" fill="#c4c4c4"/>
<rect x="858" y="349.5" width="46" height="1.5" fill="#8a8a8a"/>
<path class="l" d="M857.5 349.3 L904.3 349.3 Q906 350.3 904.3 351.3 L857.5 351.3"/>
<path class="l" d="M857.5 353 L904.3 353 Q906 354.8 904.3 356.6 L857.5 356.6"/>
<path class="l" d="M857.5 358.1 L904.3 358.1 Q906 359.6 904.3 361 L857.5 361"/>
<line class="b" x1="884" y1="350.9" x2="905" y2="350.9"/>
<line class="b" x1="878" y1="354.6" x2="905" y2="354.6"/>
<line class="l" x1="858" y1="352.2" x2="880" y2="353.4"/>
<line class="l" x1="862" y1="355.8" x2="895" y2="357.4"/>
<line class="l" x1="905.5" y1="349.3" x2="920.5" y2="349.3"/>
<path class="l" d="M920.5 349.3C921.2 349.7 923.8 350.6 925 351.5C926.2 352.4 927.2 353.6 928 355C928.8 356.4 929.2 358.2 929.6 360C930 361.8 930.1 364.6 930.2 365.5"/>
<path class="l" d="M927.2 367L932.7 367.7"/>
<path class="l" d="M926.5 367.3L926.5 381"/>
<path class="b" d="M940 382L876.2 382L876.2 434L887.5 434"/>
<path class="l" d="M887.5 434C887.8 434.4 888.8 435.8 889 436.2"/>
<line class="l" x1="889" y1="436.2" x2="889" y2="468"/>
<path class="l" d="M940 386.5C937.5 386.8 927.8 387.5 925 388C922.2 388.5 923.5 388.9 923 389.5C922.5 390.1 922.2 391.3 922 391.7"/>
<line class="l" x1="922" y1="391.7" x2="922" y2="418"/>
<path class="l" d="M922 418C922.2 418.4 922.5 419.9 923 420.7C923.5 421.4 923.5 422.1 925 422.5C926.5 422.9 929.5 423.1 932 423.4C934.5 423.6 938.7 423.9 940 424"/>
<path class="l" d="M872.5 388C872.8 388.6 873.8 391.1 874 391.7"/>
<path class="l" d="M874 391C871.8 390.9 863.3 390.1 860.5 390.2C857.7 390.3 858 390.9 857 391.5C856 392.1 855.2 393.1 854.5 394C853.8 394.9 853.3 396 853 397C852.7 398 852.7 398.2 852.7 400C852.7 401.8 852.8 406 853 408C853.2 410 853.4 410.9 853.7 412C854 413.1 854.4 413.7 855 414.3C855.6 414.9 854.8 415.3 857.5 415.7C860.2 416.1 868.4 416.2 871 416.5C873.6 416.8 872.5 416.9 873 417.2C873.5 417.5 873.8 418.3 874 418.5"/>
<path class="l" d="M873 392.4C871 392.3 863.5 391.7 861 391.8C858.5 391.9 858.8 392.3 858 392.8C857.2 393.3 856.6 394.1 856 395C855.4 395.9 854.9 397 854.6 398C854.3 399 854.3 399.3 854.3 401C854.3 402.7 854.4 406.2 854.6 408C854.8 409.8 855 410.6 855.3 411.5C855.6 412.4 856 412.8 856.5 413.3C857 413.8 856.1 414 858.5 414.3C860.9 414.6 868.9 414.9 871 415"/>
<path class="l" d="M871.7 419.5L871.7 468"/>
<path class="l" d="M873.2 418.5L873.2 468"/>
<line class="b" x1="813.6" y1="420.6" x2="867" y2="420.6"/>
<path class="l" d="M816.3 468L816.3 431Q816.3 428 819.3 428L830.7 428Q833.7 428 833.7 431L833.7 468"/>
<path class="l" d="M839.5 468L839.5 431Q839.5 428 842.5 428L865 428Q868 428 868 431L868 468"/>
<path class="l" d="M873.2 441.5L889 442.2L893.5 442.2L895 440L925 439.2"/>
<line class="b" x1="873.2" y1="452.5" x2="888.5" y2="452.5"/>
<path class="l" d="M894.2 442L894.2 468"/>
<path class="l" d="M895 448.2L912.2 448.2"/>
<line class="b" x1="912.2" y1="448.2" x2="912.2" y2="468"/>
<path class="l" d="M912.2 453.5L925.7 455"/>
<path class="l" d="M925.7 468C925.7 463.3 925.6 445.1 925.7 440C925.8 434.9 925.9 438.2 926.3 437.5C926.7 436.8 926.9 436 928 435.5C929.1 435 931 434.8 933 434.5C935 434.2 938.8 434.1 940 434"/>
<path class="l" d="M926.2 441.3C926.8 441.2 927.7 440.7 930 440.5C932.3 440.3 938.3 440.1 940 440"/>
<line class="b" x1="925.7" y1="455" x2="940" y2="455"/>
<g transform="translate(0 935.4) scale(1 -1)">
<path class="b" d="M808.6 468L808.6 331.3L835 335.2L838 334.7L854.5 334.7"/>
<path class="l" d="M854.5 334.7C854.8 334.9 855.6 335.2 856 335.7C856.4 336.2 856.6 337.4 856.7 337.7"/>
<line class="l" x1="856.7" y1="337.7" x2="856.7" y2="361"/>
<line class="l" x1="812.6" y1="468" x2="812.6" y2="333"/>
<line class="l" x1="813.6" y1="468" x2="813.6" y2="340"/>
<path class="l" d="M819.7 336.7L832.5 336.7L833.6 338L832.8 343.2L831.6 344.3L819.2 344.3L818.3 343.2L818.9 338Z"/>
<path class="l" d="M820.8 337L819.8 343.8"/>
<path class="l" d="M838 334.7C838.1 335.4 838.4 337.6 838.6 339C838.9 340.4 839.2 342 839.5 343C839.8 344 840 344.4 840.5 344.8C841 345.2 842.2 345.6 842.5 345.7L853 345.7C853.4 345.8 854.9 346.1 855.5 346.5C856.1 346.9 856.5 347.9 856.7 348.2"/>
<rect class="l" x="839.5" y="351.2" width="15.7" height="25" rx="1.5"/>
<rect class="g" x="837.6" y="355.7" width="2.2" height="17.5"/>
<path class="l" d="M837.7 373L837.7 385"/>
<path class="l" d="M856.7 361L866 362C866.7 362.2 868.9 362.7 870 363.5C871.1 364.3 872.1 366.4 872.5 367L872.5 385C872.2 385.4 871.8 386.9 871 387.5C870.2 388.1 868.5 388.2 868 388.3L838 386.5L835 388.7L814 388"/>
<rect x="858" y="351.8" width="34" height="6" fill="#c4c4c4"/>
<rect x="858" y="349.5" width="46" height="1.5" fill="#8a8a8a"/>
<path class="l" d="M857.5 349.3 L904.3 349.3 Q906 350.3 904.3 351.3 L857.5 351.3"/>
<path class="l" d="M857.5 353 L904.3 353 Q906 354.8 904.3 356.6 L857.5 356.6"/>
<path class="l" d="M857.5 358.1 L904.3 358.1 Q906 359.6 904.3 361 L857.5 361"/>
<line class="b" x1="884" y1="350.9" x2="905" y2="350.9"/>
<line class="b" x1="878" y1="354.6" x2="905" y2="354.6"/>
<line class="l" x1="858" y1="352.2" x2="880" y2="353.4"/>
<line class="l" x1="862" y1="355.8" x2="895" y2="357.4"/>
<line class="l" x1="905.5" y1="349.3" x2="920.5" y2="349.3"/>
<path class="b" d="M940 382L876.2 382L876.2 434L887.5 434"/>
<path class="l" d="M887.5 434C887.8 434.4 888.8 435.8 889 436.2"/>
<line class="l" x1="889" y1="436.2" x2="889" y2="468"/>
<path class="l" d="M872.5 388C872.8 388.6 873.8 391.1 874 391.7"/>
<path class="l" d="M874 391C871.8 390.9 863.3 390.1 860.5 390.2C857.7 390.3 858 390.9 857 391.5C856 392.1 855.2 393.1 854.5 394C853.8 394.9 853.3 396 853 397C852.7 398 852.7 398.2 852.7 400C852.7 401.8 852.8 406 853 408C853.2 410 853.4 410.9 853.7 412C854 413.1 854.4 413.7 855 414.3C855.6 414.9 854.8 415.3 857.5 415.7C860.2 416.1 868.4 416.2 871 416.5C873.6 416.8 872.5 416.9 873 417.2C873.5 417.5 873.8 418.3 874 418.5"/>
<path class="l" d="M873 392.4C871 392.3 863.5 391.7 861 391.8C858.5 391.9 858.8 392.3 858 392.8C857.2 393.3 856.6 394.1 856 395C855.4 395.9 854.9 397 854.6 398C854.3 399 854.3 399.3 854.3 401C854.3 402.7 854.4 406.2 854.6 408C854.8 409.8 855 410.6 855.3 411.5C855.6 412.4 856 412.8 856.5 413.3C857 413.8 856.1 414 858.5 414.3C860.9 414.6 868.9 414.9 871 415"/>
<path class="l" d="M871.7 419.5L871.7 468"/>
<path class="l" d="M873.2 418.5L873.2 468"/>
<line class="b" x1="813.6" y1="420.6" x2="867" y2="420.6"/>
<path class="l" d="M816.3 468L816.3 431Q816.3 428 819.3 428L830.7 428Q833.7 428 833.7 431L833.7 468"/>
<path class="l" d="M839.5 468L839.5 431Q839.5 428 842.5 428L865 428Q868 428 868 431L868 468"/>
<path class="l" d="M873.2 441.5L889 442.2L893.5 442.2L895 440L925 439.2"/>
<line class="b" x1="873.2" y1="452.5" x2="888.5" y2="452.5"/>
<path class="l" d="M894.2 442L894.2 468"/>
<path class="l" d="M895 448.2L912.2 448.2"/>
<line class="b" x1="912.2" y1="448.2" x2="912.2" y2="468"/>
<path class="l" d="M912.2 453.5L925.7 455"/>
<path class="l" d="M925.7 468C925.7 463.3 925.6 445.1 925.7 440C925.8 434.9 925.9 438.2 926.3 437.5C926.7 436.8 926.9 436 928 435.5C929.1 435 931 434.8 933 434.5C935 434.2 938.8 434.1 940 434"/>
<path class="l" d="M926.2 441.3C926.8 441.2 927.7 440.7 930 440.5C932.3 440.3 938.3 440.1 940 440"/>
<line class="b" x1="925.7" y1="455" x2="940" y2="455"/>
</g>
<rect class="l" x="922.3" y="469.2" width="16.3" height="9.5"/>
<line class="l" x1="928.8" y1="469.2" x2="928.8" y2="478.7"/>
<path class="l" d="M933.3 380.5L933.3 338.5C933.5 338.2 933.8 337.1 934.3 336.6C934.8 336.1 936.1 335.7 936.5 335.5L1022 333.2L1037 333.2C1037.2 333.3 1037.8 333.4 1038 333.8C1038.2 334.2 1038.4 335.2 1038.5 335.5L1038.5 599.7C1038.4 600 1038.2 600.9 1038 601.3C1037.8 601.7 1037.2 601.9 1037 602L1024.2 603.2L1022 602.7L937.2 600.2C936.7 599.9 935 599.3 934.3 598.5C933.5 597.7 933 595.8 932.7 595.2L932.7 554.7"/>
<rect x="1021.5" y="333.5" width="1.6" height="269.3" fill="#999"/>
<line class="b" x1="1023.7" y1="333.4" x2="1023.7" y2="603"/>
<path class="l" d="M968.3 431.7L968.3 378.2L1022 379.3"/>
<path class="b" d="M995 382.3L950.7 382L950.7 425.5C950.8 425.9 950.9 427.2 951.3 427.8C951.7 428.4 952.7 428.7 953 428.9L995 429.5L995 382.3"/>
<line class="l" x1="920" y1="381.2" x2="950.7" y2="381.2"/>
<path class="l" d="M936.5 380.7C936.8 381.1 937.2 382.4 938 383C938.8 383.6 939.7 384 941 384.4C942.3 384.8 944.4 385.2 946 385.5C947.6 385.8 949.9 385.9 950.7 386"/>
<path class="l" d="M950.7 386.5C946.3 386.6 929.2 386.8 924.5 387.2C919.8 387.6 923 388.2 922.5 389C922 389.8 921.7 391.2 921.5 391.7"/>
<line class="l" x1="921.5" y1="391.7" x2="921.5" y2="418.7"/>
<path class="l" d="M921.5 418.7C921.7 419.2 922 420.8 922.5 421.5C923 422.2 919.8 422.7 924.5 423.2C929.2 423.7 946.3 424.4 950.7 424.7"/>
<path class="l" d="M968.3 398.5L976.2 399L978.5 401.5L995 400.7"/>
<path class="l" d="M968.3 412.7L976.2 412L978.5 410.8L995 409"/>
<line class="l" x1="978.5" y1="401.5" x2="978.5" y2="410.8"/>
<line class="l" x1="983" y1="401.6" x2="983" y2="409.9"/>
<path class="l" d="M926 437.7C926.1 437.4 926.3 436.2 926.7 435.7C927.1 435.2 928 434.9 928.2 434.7L965 433.2C965.4 433.1 966.9 432.9 967.5 432.7C968.1 432.4 968.5 431.9 968.7 431.7"/>
<line class="b" x1="955.2" y1="434.7" x2="955.2" y2="515"/>
<path class="l" d="M926.7 441.5L955.2 439"/>
<line class="b" x1="926" y1="455" x2="955.2" y2="455"/>
<path class="l" d="M926.7 506L955.2 509.3"/>
<path class="l" d="M926 500L926 509C926.1 509.4 926.3 510.9 926.8 511.5C927.3 512.1 928.6 512.5 929 512.7L955.2 514.2"/>
<path class="l" d="M955.2 442.2L992 443.7C992.7 443.8 995 443.9 996 444.3C997 444.7 997.5 445.2 998 446C998.5 446.8 998.8 446.7 998.7 449C998.6 451.3 997.9 456.5 997.6 460C997.4 463.5 997.2 466.7 997.2 470C997.2 473.3 997.5 476.8 997.8 480C998 483.2 998.8 487.7 998.7 489.5C998.7 491.3 998.1 490.6 997.5 491C996.9 491.4 995.4 491.6 995 491.7L955.2 494"/>
<line class="l" x1="952.2" y1="455" x2="952.2" y2="493.2"/>
<line class="l" x1="926" y1="493.2" x2="952.2" y2="493.6"/>
<path class="b" d="M955.2 454.2C958.5 454.1 968.6 453.9 975 453.5C981.4 453.1 990.4 452.2 993.5 452"/>
<path class="b" d="M955.2 463.2C958.5 463.3 968.6 463.6 975 464C981.4 464.4 990.4 465.2 993.5 465.5"/>
<path class="l" d="M993.5 452C993.6 453.2 994.3 456.8 994.3 459C994.3 461.2 993.6 464.4 993.5 465.5"/>
<path class="b" d="M955.2 472.2C958.5 472.1 968.6 471.9 975 471.5C981.4 471.1 990.4 470.2 993.5 470"/>
<path class="b" d="M955.2 482.3C958.5 482.4 968.6 482.7 975 483C981.4 483.3 990.4 484 993.5 484.2"/>
<path class="l" d="M993.5 470C993.6 471.2 994.3 474.6 994.3 477C994.3 479.4 993.6 483 993.5 484.2"/>
<path class="l" d="M956 515.7L1022 519.2"/>
<path class="l" d="M962.7 517.2L961.2 545C961 545.2 960.6 546.1 960 546.5C959.4 546.9 959.2 546.9 957.5 547.2C955.8 547.6 952.5 548.1 950 548.6C947.5 549.1 944.1 549.7 942.5 550.2C940.9 550.7 940.8 551 940.3 551.5C939.8 552 939.6 552.9 939.5 553.2"/>
<path class="l" d="M939.5 552.5L1022 554.7"/>
<path class="l" d="M939.5 553.2C940.1 553.4 941.5 554.4 943 554.6C944.5 554.9 947.6 554.7 948.5 554.7"/>
<path class="l" d="M929.7 554.7L929.7 572"/>
<path class="l" d="M929.7 572C929.5 573 929.3 576.2 928.7 578C928.1 579.8 926.9 581.3 926 582.5C925.1 583.7 924.5 584.4 923.5 585C922.5 585.6 920.6 586 920 586.2"/>
<line class="l" x1="920" y1="585.9" x2="932.7" y2="585.9"/>
</g>
</svg>
</body></html>
